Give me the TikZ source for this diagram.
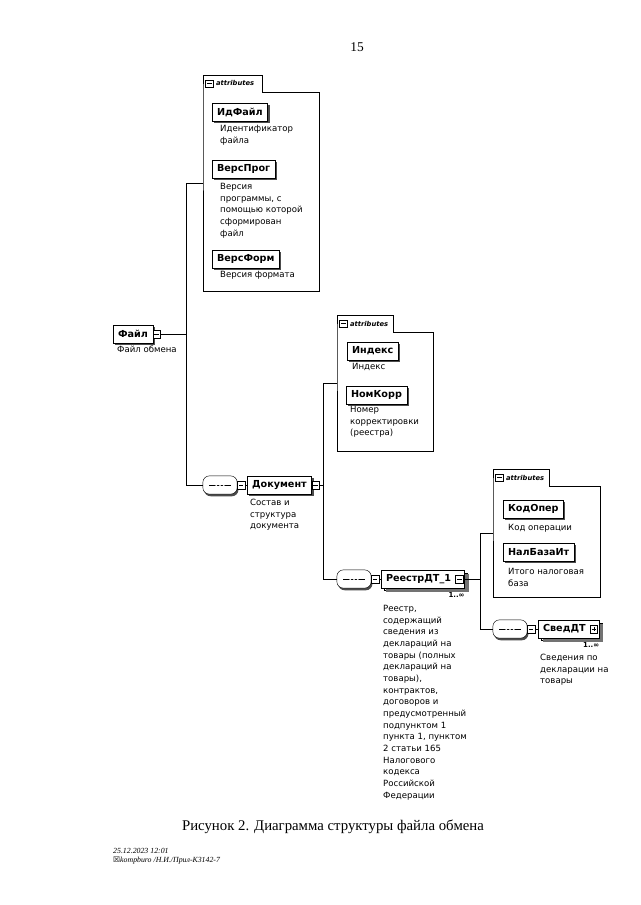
\documentclass[tikz,border=0pt]{standalone}
\usepackage{fontspec}
\setmainfont{Liberation Serif}
\setsansfont{DejaVu Sans}
\usetikzlibrary{calc,shadows}

\tikzset{
  elem/.style={draw, fill=white, inner xsep=4.5pt, inner ysep=0pt,
    minimum height=16.5pt, anchor=west,
    font=\sffamily\bfseries\fontsize{9}{10}\selectfont,
    drop shadow={shadow xshift=1.8pt, shadow yshift=-2pt,
      fill=black!70, opacity=1}},
  multielem/.style={draw, fill=white, inner xsep=4.5pt, inner ysep=0pt,
    minimum height=16.5pt, anchor=west,
    font=\sffamily\bfseries\fontsize{9}{10}\selectfont,
    execute at end node={\hspace{8pt}},
    copy shadow={shadow xshift=2.5pt, shadow yshift=-2.5pt,
      fill=white, draw=black},
    drop shadow={shadow xshift=4pt, shadow yshift=-4pt,
      fill=black!55, opacity=1}},
  descr/.style={anchor=north west, inner sep=0pt, align=left,
    font=\sffamily\fontsize{8}{10.9}\selectfont},
  occurs/.style={anchor=north east, inner sep=0pt,
    font=\sffamily\bfseries\fontsize{6.5}{7}\selectfont},
  minusbox/.style={draw, fill=white, minimum size=7pt, inner sep=0pt,
    path picture={\draw ([xshift=1.4pt]path picture bounding box.west)
      -- ([xshift=-1.4pt]path picture bounding box.east);}},
  plusbox/.style={draw, fill=white, minimum size=7pt, inner sep=0pt,
    path picture={\draw ([xshift=1.4pt]path picture bounding box.west)
      -- ([xshift=-1.4pt]path picture bounding box.east);
      \draw ([yshift=-1.4pt]path picture bounding box.north)
      -- ([yshift=1.4pt]path picture bounding box.south);}},
  seq/.style={draw, fill=white, rounded corners=6pt, minimum width=32pt,
    minimum height=17pt, inner sep=0pt,
    drop shadow={shadow xshift=1.2pt, shadow yshift=-2pt,
      fill=black!70, opacity=1},
    path picture={\draw ([xshift=6pt]path picture bounding box.west)
      -- ([xshift=-6pt]path picture bounding box.east);
      \foreach \k in {-3.5,0,3.5}
        \fill ([xshift=\k pt]path picture bounding box.center) circle (1.1pt);}},
  attrbody/.style={anchor=north west, inner sep=0pt},
  attrtab/.style={anchor=south west, inner sep=0pt, minimum width=55pt,
    minimum height=15.5pt},
  tabtext/.style={anchor=west, inner sep=0pt,
    font=\sffamily\bfseries\itshape\fontsize{6.3}{7}\selectfont}
}

\begin{document}
\begin{tikzpicture}[x=0.0328cm, y=-0.0328cm]
  % Page
  \useasboundingbox (0,0) rectangle (640,905);
  \fill[white] (0,0) rectangle (640,905);
  \node[font=\fontsize{12.5}{14}\selectfont] (pagenum) at (357,47) {15};
  %
  % Junction columns
  \coordinate (jA) at (186,0);
  \coordinate (jB) at (323,0);
  \coordinate (jC) at (480,0);
  %
  % Root element
  \node[elem] (fajl) at (113,334) {Файл};
  \node[minusbox] (fajlx) at ([xshift=3.5pt]fajl.east) {};
  \node[descr] (fajld) at (117,346) {Файл обмена};
  %
  % Attributes of Файл
  \node[attrbody, minimum width=108pt, minimum height=186pt] (a1) at (203,92) {};
  \node[attrtab] (a1t) at (a1.north west) {};
  \draw (a1t.south west) -- (a1t.north west) -- (a1t.north east)
    -- (a1t.south east) -- (a1.north east) -- (a1.south east)
    -- (a1.south west) -- cycle;
  \node[minusbox] (a1tx) at ([xshift=6pt]a1t.west) {};
  \node[tabtext] at ([xshift=12pt]a1t.west) {attributes};
  \coordinate (a1m) at ($(a1t.north west)!0.5!(a1.south west)$);
  %
  \node[elem] (idf) at (212,112) {ИдФайл};
  \node[descr] at (220,125) {Идентификатор\\файла};
  \node[elem] (vprog) at (212,169) {ВерсПрог};
  \node[descr] at (220,183) {Версия\\программы, с\\помощью которой\\сформирован\\файл};
  \node[elem] (vform) at (212,259) {ВерсФорм};
  \node[descr] at (220,271) {Версия формата};
  %
  % Sequence of Файл
  \node[seq] (seq1) at (220,485) {};
  \node[minusbox] (seq1x) at ([xshift=3.5pt]seq1.east) {};
  \node[elem] (dok) at (247,485) {Документ};
  \node[minusbox] (dokx) at ([xshift=3.5pt]dok.east) {};
  \node[descr] at (250,499) {Состав и\\структура\\документа};
  %
  \draw (fajlx.east) -- (jA |- fajlx);
  \draw (a1m) -- (jA |- a1m) -- (jA |- seq1.west) -- (seq1.west);
  \draw (seq1x.east) -- (dok.west);
  %
  % Attributes of Документ
  \node[attrbody, minimum width=89pt, minimum height=111pt] (a2) at (337,332) {};
  \node[attrtab, minimum width=52pt] (a2t) at (a2.north west) {};
  \draw (a2t.south west) -- (a2t.north west) -- (a2t.north east)
    -- (a2t.south east) -- (a2.north east) -- (a2.south east)
    -- (a2.south west) -- cycle;
  \node[minusbox] (a2tx) at ([xshift=6pt]a2t.west) {};
  \node[tabtext] at ([xshift=12pt]a2t.west) {attributes};
  \coordinate (a2m) at ($(a2t.north west)!0.5!(a2.south west)$);
  %
  \node[elem] (idx) at (347,351) {Индекс};
  \node[descr] at (352,363) {Индекс};
  \node[elem] (nkorr) at (346,395) {НомКорр};
  \node[descr] at (350,406) {Номер\\корректировки\\(реестра)};
  %
  % Sequence of Документ
  \node[seq] (seq2) at (354,579) {};
  \node[minusbox] (seq2x) at ([xshift=3.5pt]seq2.east) {};
  \node[multielem] (reestr) at (381,579) {РеестрДТ\_1};
  \node[minusbox] (reestrx) at ([xshift=-5pt]reestr.east) {};
  \node[occurs] at ([yshift=-4pt]reestr.south east) {1..∞};
  \node[descr] at (383,605) {Реестр,\\содержащий\\сведения из\\деклараций на\\товары (полных\\деклараций на\\товары),\\контрактов,\\договоров и\\предусмотренный\\подпунктом 1\\пункта 1, пунктом\\2 статьи 165\\Налогового\\кодекса\\Российской\\Федерации};
  %
  \draw (dokx.east) -- (jB |- dokx);
  \draw (a2m) -- (jB |- a2m) -- (jB |- seq2.west) -- (seq2.west);
  \draw (seq2x.east) -- (reestr.west);
  %
  % Attributes of РеестрДТ_1
  \node[attrbody, minimum width=100pt, minimum height=103pt] (a3) at (493,486) {};
  \node[attrtab, minimum width=52pt] (a3t) at (a3.north west) {};
  \draw (a3t.south west) -- (a3t.north west) -- (a3t.north east)
    -- (a3t.south east) -- (a3.north east) -- (a3.south east)
    -- (a3.south west) -- cycle;
  \node[minusbox] (a3tx) at ([xshift=6pt]a3t.west) {};
  \node[tabtext] at ([xshift=12pt]a3t.west) {attributes};
  \coordinate (a3m) at ($(a3t.north west)!0.5!(a3.south west)$);
  %
  \node[elem] (kodop) at (503,509) {КодОпер};
  \node[descr] at (508,524) {Код операции};
  \node[elem] (nalb) at (503,552) {НалБазаИт};
  \node[descr] at (508,568) {Итого налоговая\\база};
  %
  % Sequence of РеестрДТ_1
  \node[seq] (seq3) at (510,629) {};
  \node[minusbox] (seq3x) at ([xshift=3.5pt]seq3.east) {};
  \node[multielem] (sved) at (538,629) {СведДТ};
  \node[plusbox] (svedx) at ([xshift=-5pt]sved.east) {};
  \node[occurs] at ([yshift=-4pt]sved.south east) {1..∞};
  \node[descr] at (540,654) {Сведения по\\декларации на\\товары};
  %
  \draw (reestrx.east) -- (jC |- reestrx);
  \draw (a3m) -- (jC |- a3m) -- (jC |- seq3.west) -- (seq3.west);
  \draw (seq3x.east) -- (sved.west);
  %
  % Caption and footer
  \node[font=\fontsize{13.8}{15}\selectfont] (caption) at (333,827)
    {Рисунок 2. Диаграмма структуры файла обмена};
  \node[anchor=north west, inner sep=0pt, align=left,
    font=\itshape\fontsize{7.3}{8.3}\selectfont] (stamp) at (113,848)
    {25.12.2023 12:01\\{\sffamily\upshape ☒}kompburo /Н.И./Прил-К3142-7};
\end{tikzpicture}
\end{document}
